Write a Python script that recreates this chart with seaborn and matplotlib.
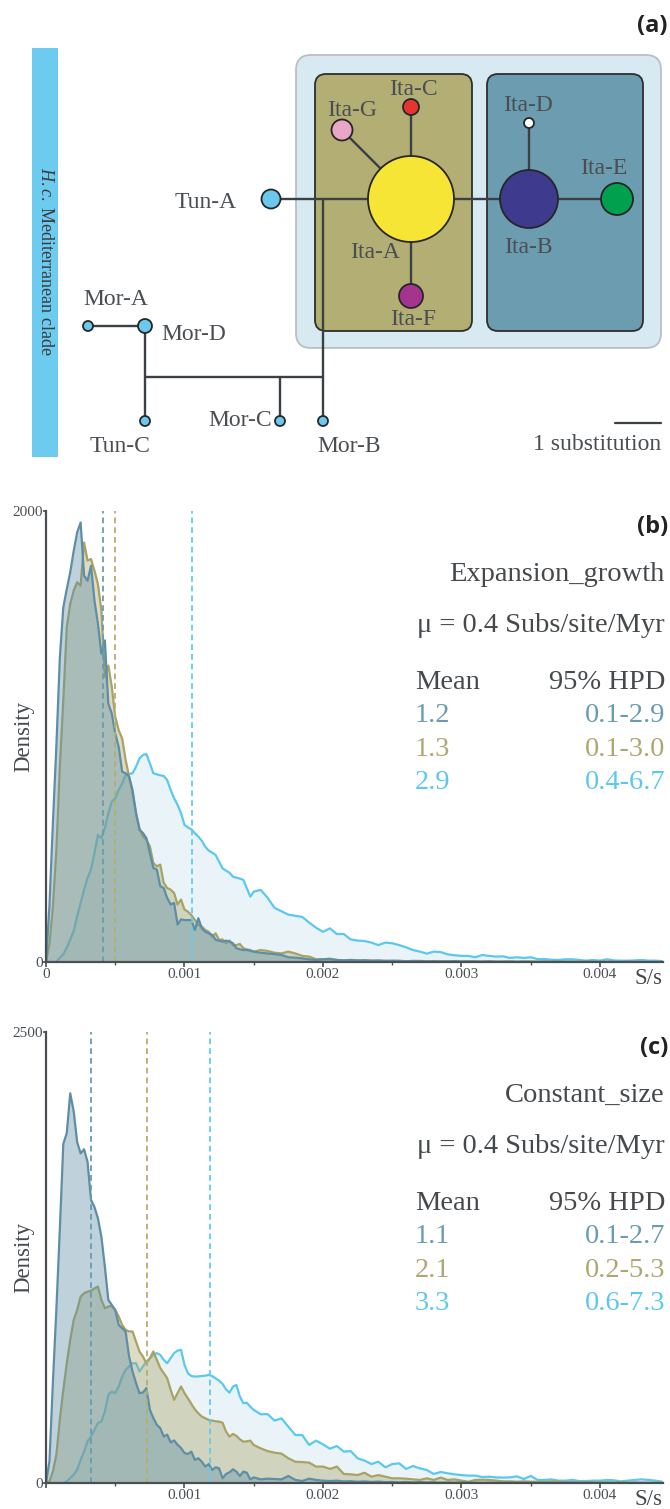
import numpy as np
import pandas as pd
import matplotlib
matplotlib.use("Agg")
import matplotlib.pyplot as plt
import seaborn as sns
from matplotlib.patches import FancyBboxPatch, Circle, Rectangle
from matplotlib.ticker import FixedLocator

# ---------------------------------------------------------------- data
# bin positions (S/s, in units of 1e-6)
s_per_s_e6 = [0, 25, 50, 75, 100, 125, 150, 175, 200, 225,
              250, 275, 300, 325, 350, 375, 400, 425, 450, 475,
              500, 525, 550, 575, 600, 625, 650, 675, 700, 725,
              750, 775, 800, 825, 850, 875, 900, 925, 950, 975,
              1000, 1025, 1050, 1075, 1100, 1125, 1150, 1175, 1200, 1225,
              1250, 1275, 1300, 1325, 1350, 1375, 1400, 1425, 1450, 1475,
              1500,
              1550, 1600, 1650, 1700, 1750, 1800, 1850, 1900, 1950, 2000,
              2050, 2100, 2150, 2200, 2250, 2300, 2350, 2400, 2450, 2500,
              2550, 2600, 2650, 2700, 2750, 2800, 2850, 2900, 2950, 3000,
              3050, 3100, 3150, 3200, 3250, 3300, 3350, 3400, 3450, 3500,
              3550, 3600, 3650, 3700, 3750, 3800, 3850, 3900, 3950, 4000,
              4050, 4100, 4150, 4200, 4250, 4300, 4350, 4400, 4450]

# panel (b) Expansion_growth densities
b_bluegrey = [0, 250, 620, 960, 1350, 1573, 1654, 1728, 1823, 1905,
              1949, 1713, 1691, 1757, 1603, 1500, 1367, 1426, 1146, 1102,
              1013, 954, 844, 837, 822, 763, 660, 586, 572, 549,
              483, 417, 410, 336, 328, 284, 255, 262, 166, 189,
              186, 186, 186, 142, 194, 149, 134, 127, 120, 98,
              95, 90, 95, 90, 83, 61, 56, 53, 53, 50,
              46,
              41, 38, 35, 31, 21, 19, 16, 12, 9, 12,
              12, 9, 7, 9, 6, 8, 5, 7, 4, 6,
              5, 3, 5, 4, 3, 4, 2, 3, 4, 2,
              3, 2, 2, 3, 1, 2, 2, 1, 2, 1,
              1, 2, 1, 1, 1, 1, 0, 1, 1, 0,
              1, 0, 0, 1, 0, 0, 0, 0, 0]
b_olive = [0, 80, 247, 498, 866, 1161, 1485, 1588, 1647, 1684,
           1669, 1860, 1780, 1787, 1735, 1676, 1558, 1264, 1315, 1220,
           1087, 1028, 991, 896, 822, 748, 660, 594, 557, 542,
           513, 439, 424, 432, 351, 328, 321, 306, 255, 277,
           233, 223, 208, 186, 164, 157, 142, 134, 112, 127,
           98, 100, 83, 95, 75, 75, 80, 61, 56, 53,
           46,
           53, 49, 41, 38, 46, 38, 27, 24, 12, 12,
           15, 9, 7, 9, 8, 6, 7, 5, 6, 4,
           5, 4, 3, 5, 3, 2, 4, 2, 3, 2,
           2, 3, 1, 2, 2, 1, 2, 1, 1, 2,
           1, 1, 1, 0, 1, 1, 0, 1, 0, 1,
           0, 1, 0, 0, 1, 0, 0, 0, 0]
b_lightblue = [0, 0, 0, 0, 19, 34, 63, 100, 137, 203,
               262, 321, 373, 409, 483, 564, 549, 594, 660, 711,
               726, 763, 792, 829, 834, 837, 866, 903, 918, 922,
               881, 837, 832, 828, 825, 807, 763, 726, 697, 660,
               608, 597, 588, 571, 556, 538, 511, 494, 485, 474,
               445, 415, 405, 396, 378, 374, 370, 364, 327, 290,
               312,
               320, 285, 240, 225, 210, 205, 200, 175, 152, 134,
               149, 124, 124, 100, 95, 93, 86, 75, 86, 83,
               75, 65, 53, 46, 37, 46, 44, 34, 30, 27,
               27, 21, 31, 27, 24, 25, 18, 21, 18, 21,
               13, 13, 10, 9, 12, 12, 9, 6, 9, 6,
               12, 7, 6, 6, 7, 9, 6, 6, 4]

# panel (c) Constant_size densities
c_bluegrey = [0, 120, 563, 965, 1408, 1880, 1940, 2160, 2060, 1890,
              1827, 1850, 1780, 1569, 1530, 1467, 1365, 1199, 1015, 987,
              959, 876, 858, 839, 701, 618, 554, 498, 502, 526,
              406, 360, 323, 304, 258, 268, 225, 236, 212, 194,
              166, 161, 174, 128, 137, 118, 91, 105, 72, 87,
              81, 26, 50, 59, 76, 63, 39, 63, 57, 20,
              31,
              20, 24, 22, 20, 39, 17, 11, 24, 17, 13,
              11, 13, 9, 10, 7, 9, 6, 8, 5, 6,
              4, 6, 3, 5, 3, 4, 2, 3, 2, 3,
              2, 2, 1, 2, 1, 1, 2, 1, 1, 1,
              0, 1, 1, 0, 1, 0, 0, 1, 0, 0,
              0, 0, 1, 0, 0, 0, 0, 0, 0]
c_olive = [0, 9, 65, 157, 351, 517, 664, 793, 904, 959,
           1033, 1052, 1061, 1066, 1079, 1089, 1015, 969, 978, 982,
           959, 923, 876, 849, 840, 840, 784, 729, 701, 664,
           692, 729, 683, 637, 609, 581, 517, 461, 498, 535,
           498, 469, 438, 408, 386, 368, 359, 349, 346, 342,
           340, 334, 285, 257, 272, 261, 242, 229, 231, 235,
           211,
           192, 177, 168, 163, 137, 118, 116, 113, 91, 91,
           78, 91, 50, 48, 44, 57, 35, 44, 35, 26,
           26, 24, 20, 17, 26, 17, 30, 17, 20, 13,
           7, 17, 18, 17, 13, 9, 9, 7, 9, 7,
           7, 5, 9, 7, 5, 5, 4, 5, 4, 3,
           4, 3, 3, 2, 3, 2, 2, 1, 1]
c_lightblue = [0, 0, 0, 0, 0, 0, 9, 28, 46, 74,
               129, 175, 231, 258, 295, 332, 341, 397, 489, 507,
               498, 535, 590, 627, 646, 664, 664, 618, 646, 673,
               692, 710, 720, 710, 683, 664, 692, 720, 734, 738,
               655, 608, 593, 590, 591, 593, 595, 599, 593, 580,
               567, 549, 519, 501, 534, 543, 479, 442, 445, 423,
               405,
               381, 382, 346, 358, 312, 266, 266, 211, 235, 214,
               190, 205, 174, 177, 137, 124, 105, 118, 87, 105,
               109, 78, 94, 81, 72, 50, 61, 54, 48, 44,
               41, 41, 33, 35, 31, 30, 31, 37, 22, 39,
               17, 17, 20, 13, 13, 17, 11, 11, 13, 13,
               17, 15, 9, 13, 17, 20, 17, 13, 7]

series_names = ["lightblue", "olive", "bluegrey"]
b_means = [0.001057, 0.000498, 0.000414]
c_means = [0.001182, 0.000727, 0.000322]
b_mean_txt = ["1.2", "1.3", "2.9"]
b_hpd_txt = ["0.1-2.9", "0.1-3.0", "0.4-6.7"]
c_mean_txt = ["1.1", "2.1", "3.3"]
c_hpd_txt = ["0.1-2.7", "0.2-5.3", "0.6-7.3"]
x_ticks = [0, 0.001, 0.002, 0.003, 0.004]
b_xticklabels = ["0", "0.001", "0.002", "0.003", "0.004"]
c_xticklabels = ["", "0.001", "0.002", "0.003", "0.004"]
b_yticks = [0, 2000]
c_yticks = [0, 2500]

# haplotype network
haplotypes = ["Ita-A", "Ita-B", "Ita-C", "Ita-D", "Ita-E", "Ita-F", "Ita-G",
              "Tun-A", "Tun-C", "Mor-A", "Mor-B", "Mor-C", "Mor-D"]
hap_radius = [43, 29, 8, 5, 16, 12, 10.5, 9.5, 5, 5, 5, 5, 7]
hap_colors = ["#F6E535", "#3E3A8E", "#E5352F", "#FFFFFF", "#00A04F", "#A3358F",
              "#EAA6C6", "#6CC9EE", "#6CC9EE", "#6CC9EE", "#6CC9EE", "#6CC9EE",
              "#6CC9EE"]
edges = [("Tun-A", "Ita-A"), ("Ita-A", "Ita-B"), ("Ita-B", "Ita-E"),
         ("Ita-B", "Ita-D"), ("Ita-A", "Ita-C"), ("Ita-A", "Ita-F"),
         ("Ita-A", "Ita-G"), ("j1", "Mor-B"), ("j2", "j3"), ("j4", "Mor-C"),
         ("Mor-D", "Tun-C"), ("Mor-A", "Mor-D")]

# ---------------------------------------------------------------- layout / style
W, H = 670, 1509
pos = {"Ita-A": (411, 199), "Ita-B": (529, 199), "Ita-C": (411, 107),
       "Ita-D": (529, 123), "Ita-E": (617, 199), "Ita-F": (411, 296),
       "Ita-G": (342, 130), "Tun-A": (271, 199), "Tun-C": (145, 421),
       "Mor-A": (88, 326), "Mor-B": (323, 421), "Mor-C": (280, 421),
       "Mor-D": (145, 326), "j1": (323, 199), "j2": (323, 377),
       "j3": (145, 377), "j4": (280, 377)}
label_pos = {"Ita-A": (375, 258, "center"), "Ita-B": (528, 253, "center"),
             "Ita-C": (413, 95, "center"), "Ita-D": (528, 111, "center"),
             "Ita-E": (604, 174, "center"), "Ita-F": (413, 325, "center"),
             "Ita-G": (352, 116, "center"), "Tun-A": (237, 208, "right"),
             "Tun-C": (120, 452, "center"), "Mor-A": (116, 305, "center"),
             "Mor-B": (317, 452, "left"), "Mor-C": (272, 426, "right"),
             "Mor-D": (161, 340, "left")}

SERIF = ["Liberation Serif", "DejaVu Serif"]
SANS_BOLD = ["Open Sans", "DejaVu Sans"]
TXT = "#45494C"
AXC = "#4A4F54"
line_col = {"bluegrey": "#5E8EA6", "olive": "#A8A264", "lightblue": "#5BC8F0"}
fill_col = {"bluegrey": "#5F8FA6", "olive": "#ABA56A", "lightblue": "#EAF4F8"}
fill_alpha = {"bluegrey": 0.40, "olive": 0.40, "lightblue": 1.0}
dash_col = {"bluegrey": "#6A9BB1", "olive": "#B3AD72", "lightblue": "#5FCBF2"}
txt_col = {"bluegrey": "#6A9BB1", "olive": "#ADA872", "lightblue": "#5DC8EF"}

sns.set_style("white")
plt.rcParams["font.family"] = SERIF
plt.rcParams["mathtext.fontset"] = "custom"
plt.rcParams["mathtext.rm"] = "Liberation Serif"
plt.rcParams["mathtext.it"] = "Liberation Serif:italic"

fig = plt.figure(figsize=(W / 100, H / 100), dpi=100)


def fx(px):
    return px / W


def fy(py):
    return 1 - py / H


def ftext(px, py, s, **kw):
    fig.text(fx(px), fy(py), s, **kw)


# ---------------------------------------------------------------- panel (a)
ax_a = fig.add_axes([0, fy(470), 1, 470 / H])
ax_a.set_xlim(0, W)
ax_a.set_ylim(470, 0)
ax_a.axis("off")

ax_a.add_patch(Rectangle((32, 48), 26, 409, fc="#6DCBEF", lw=0))
ax_a.text(45, 261, r"$\mathit{H.c.}$ Mediterranean clade", rotation=-90,
          ha="center", va="center", fontsize=13, color="#3A3D40")

ax_a.add_patch(FancyBboxPatch((296, 55), 365, 293,
                              boxstyle="round,pad=0,rounding_size=15",
                              fc="#D7E9F1", ec="#B9BFC4", lw=1.3, zorder=1))
ax_a.add_patch(FancyBboxPatch((315, 74), 157, 257,
                              boxstyle="round,pad=0,rounding_size=11",
                              fc="#B3AE73", ec="#2E2E2E", lw=1.3, zorder=1))
ax_a.add_patch(FancyBboxPatch((487, 74), 156, 257,
                              boxstyle="round,pad=0,rounding_size=11",
                              fc="#6C9CAF", ec="#2E2E2E", lw=1.3, zorder=1))

for a, b in edges:
    (x0, y0), (x1, y1) = pos[a], pos[b]
    ax_a.plot([x0, x1], [y0, y1], color="#3B4045", lw=1.7, zorder=2,
              solid_capstyle="butt")

for name, r, c in zip(haplotypes, hap_radius, hap_colors):
    ax_a.add_patch(Circle(pos[name], r, fc=c, ec="#262626", lw=1.3, zorder=3))
    lx, ly, ha = label_pos[name]
    ax_a.text(lx, ly, name, ha=ha, va="baseline", fontsize=17, color="#4A4E52",
              zorder=4)

ax_a.plot([615, 661], [423, 423], color="#3B4045", lw=1.6)
ax_a.text(661, 450, "1 substitution", ha="right", va="baseline", fontsize=17,
          color="#4A4E52")
ftext(668, 32, "(a)", ha="right", va="baseline", fontsize=17,
      fontweight="bold", family=SANS_BOLD, color="#222222")

# ---------------------------------------------------------------- panels (b), (c)
x_vals = np.array(s_per_s_e6) * 1e-6


def density_panel(top_px, bottom_px, series, means, ymax, yticks, xlabels,
                  tag, title, mean_txt, hpd_txt, tag_base, title_base):
    ax = fig.add_axes([fx(46), fy(bottom_px), (663 - 46) / W,
                       (bottom_px - top_px) / H])
    df = pd.DataFrame({"x": np.tile(x_vals, 3),
                       "density": np.concatenate([series[k] for k in series_names]),
                       "run": np.repeat(series_names, len(x_vals))})
    for k, name in enumerate(series_names):
        sub = df[df["run"] == name]
        ax.fill_between(sub["x"], 0, sub["density"], color=fill_col[name],
                        alpha=fill_alpha[name], lw=0, zorder=1 + 2 * k)
        sns.lineplot(data=sub, x="x", y="density", ax=ax, color=line_col[name],
                     lw=1.6, estimator=None, zorder=2 + 2 * k)
    for name, m in zip(series_names, means):
        ax.axvline(m, color=dash_col[name], lw=1.3, ls=(0, (3.2, 2.2)), zorder=10)

    ax.set_xlim(0, 0.004455)
    ax.set_ylim(0, ymax)
    ax.set_xlabel("")
    ax.set_ylabel("")
    for sp in ["top", "right"]:
        ax.spines[sp].set_visible(False)
    for sp in ["left", "bottom"]:
        ax.spines[sp].set_color(AXC)
        ax.spines[sp].set_linewidth(1.6)
        ax.spines[sp].set_zorder(11)
    ax.xaxis.set_major_locator(FixedLocator(x_ticks))
    ax.xaxis.set_minor_locator(FixedLocator([0.0005, 0.0015, 0.0025, 0.0035]))
    ax.set_xticklabels(xlabels)
    ax.set_yticks(yticks)
    ax.set_yticklabels([str(v) for v in yticks])
    ax.tick_params(axis="x", which="major", direction="out", length=3.5,
                   width=1.2, color=AXC, pad=1, labelsize=11, labelcolor=AXC,
                   bottom=True)
    ax.tick_params(axis="x", which="minor", direction="out", length=2.5,
                   width=1.0, color=AXC, bottom=True)
    ax.tick_params(axis="y", which="major", direction="out", length=2,
                   width=1.2, color=AXC, pad=0.5, labelsize=11, labelcolor=AXC,
                   left=True)
    ax.grid(False)

    ftext(24, (top_px + bottom_px) / 2, "Density", rotation=90, ha="center",
          va="center", fontsize=16.5, color=TXT)
    ftext(663, bottom_px + 22, "S/s", ha="right", va="baseline",
          fontsize=16.5, color=TXT)

    ftext(668, tag_base, tag, ha="right", va="baseline", fontsize=17,
          fontweight="bold", family=SANS_BOLD, color="#222222")
    ftext(665, title_base, title, ha="right", va="baseline", fontsize=20.5,
          color=TXT)
    ftext(665, title_base + 51, "\u03bc = 0.4 Subs/site/Myr", ha="right",
          va="baseline", fontsize=20.5, color=TXT)
    ftext(415, title_base + 108, "Mean", ha="left", va="baseline",
          fontsize=20.5, color=TXT)
    ftext(665, title_base + 108, "95% HPD", ha="right", va="baseline",
          fontsize=20.5, color=TXT)
    order = ["bluegrey", "olive", "lightblue"]
    for i, name in enumerate(order):
        yb = title_base + 141 + 33.6 * i
        ftext(415, yb, mean_txt[i], ha="left", va="baseline", fontsize=20.5,
              color=txt_col[name])
        ftext(665, yb, hpd_txt[i], ha="right", va="baseline", fontsize=20.5,
              color=txt_col[name])
    return ax


density_panel(511, 962,
              {"bluegrey": b_bluegrey, "olive": b_olive, "lightblue": b_lightblue},
              b_means, 2000, b_yticks, b_xticklabels, "(b)", "Expansion_growth",
              b_mean_txt, b_hpd_txt, 533, 581)
density_panel(1032, 1483,
              {"bluegrey": c_bluegrey, "olive": c_olive, "lightblue": c_lightblue},
              c_means, 2500, c_yticks, c_xticklabels, "(c)", "Constant_size",
              c_mean_txt, c_hpd_txt, 1054, 1102)

fig.savefig("out.png", dpi=100)
